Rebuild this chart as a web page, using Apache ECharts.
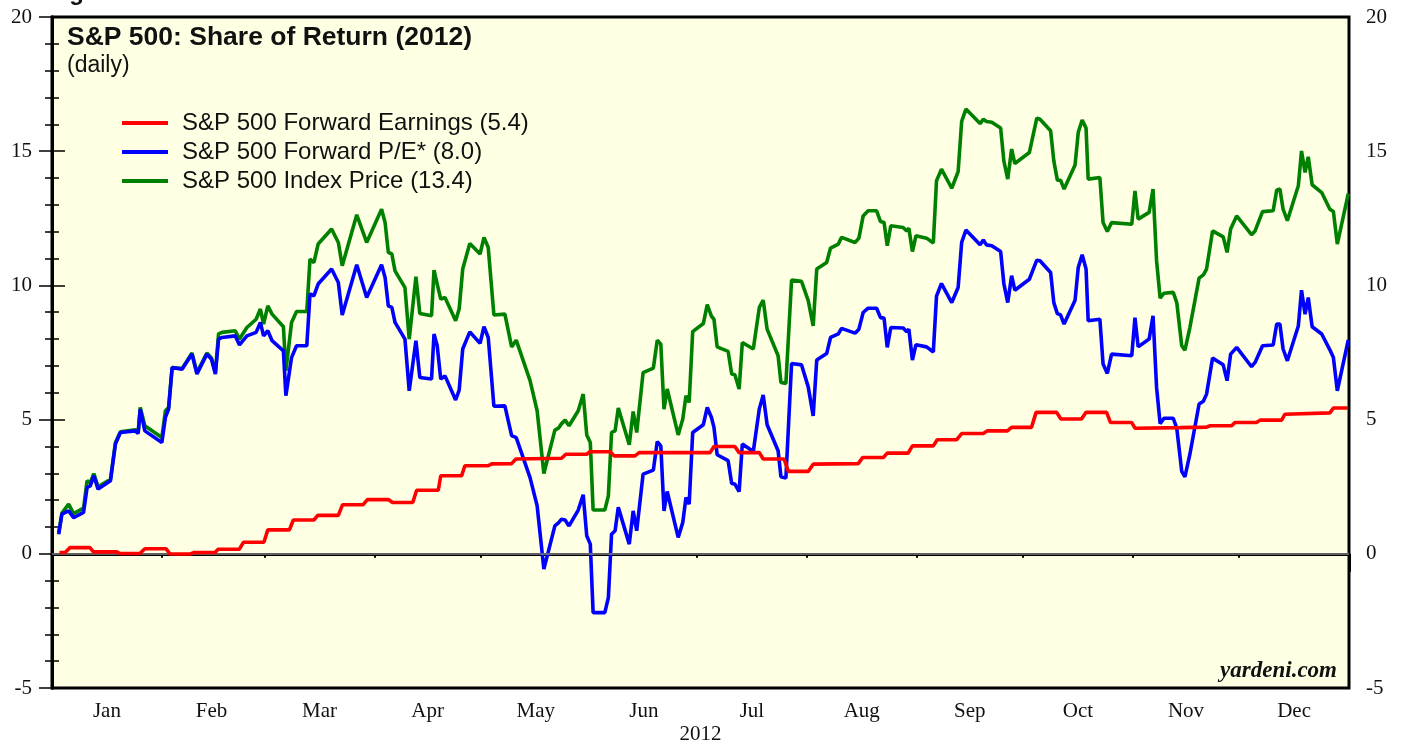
<!DOCTYPE html>
<html>
<head>
<meta charset="utf-8">
<title>S&amp;P 500: Share of Return (2012)</title>
<script src="https://cdn.jsdelivr.net/npm/echarts@6/dist/echarts.min.js"></script>
<style>
  html, body { margin: 0; padding: 0; background: #fff; }
  #chart { width: 1407px; height: 742px; }
</style>
</head>
<body>
<div id="chart"></div>
<script>
// x values are day of year (0 = Jan 1 2012) at each vertex
const priceDays = [
  1.9, 2.8, 4.7, 6.1, 8.9, 9.9, 10.8, 11.8, 13.0, 16.5,
  17.9, 19.3, 23.5, 24.3, 24.9, 26.2, 31.0, 32.0, 32.9, 33.9,
  36.7, 39.5, 40.9, 43.7, 45.0, 46.1, 47.0, 48.0, 51.7, 52.9,
  55.0, 57.6, 58.8, 59.7, 60.9, 62.1, 65.3, 66.0, 67.6, 69.0,
  71.9, 72.8, 73.9, 75.1, 78.9, 80.8, 81.9, 86.0, 88.8, 93.0,
  94.0, 94.9, 95.9, 96.8, 99.6, 100.8, 102.7, 103.8, 107.1, 107.8,
  108.7, 109.7, 110.9, 113.9, 114.9, 115.9, 117.9, 120.8, 121.9, 123.1,
  124.7, 127.8, 129.7, 131.0, 134.9, 136.9, 138.8, 141.9, 142.9, 143.8,
  144.8, 145.9, 148.5, 149.9, 150.9, 151.9, 152.7, 156.0, 157.0, 157.9,
  158.9, 159.8, 162.9, 164.0, 165.0, 166.8, 169.7, 170.8, 171.8, 172.7,
  173.6, 176.7, 178.0, 178.9, 179.8, 180.8, 183.8, 184.9, 186.1, 186.8,
  187.7, 190.8, 191.8, 192.7, 193.9, 194.8, 197.9, 199.6, 200.7, 201.8,
  204.9, 205.7, 207.1, 208.7, 211.5, 213.4, 214.8, 215.8, 218.6, 219.7,
  221.9, 222.8, 226.6, 227.7, 228.9, 230.3, 232.7, 233.8, 234.8, 235.7,
  236.7, 240.2, 241.2, 241.8, 242.8, 243.8, 246.8, 248.7, 249.6, 251.0,
  253.9, 255.7, 256.7, 257.9, 261.9, 262.8, 263.7, 265.2, 267.7, 268.6,
  269.7, 270.8, 271.7, 275.8, 277.9, 278.8, 281.8, 282.7, 283.7, 284.6,
  285.6, 288.7, 289.6, 290.7, 291.8, 292.4, 295.7, 296.6, 297.8, 299.0,
  304.7, 305.6, 306.5, 309.6, 310.7, 311.7, 312.7, 313.8, 316.4, 317.4,
  318.8, 319.7, 321.1, 323.7, 324.9, 325.8, 327.5, 330.5, 331.6, 332.6,
  334.3, 338.5, 339.5, 341.6, 344.6, 345.6, 346.5, 347.4, 348.6, 351.7,
  352.6, 353.6, 354.5, 355.6, 358.3, 360.6, 361.6, 362.7, 365.8
];

// S&P 500 Index Price share of return (%)
const priceVals = [
  0.80, 1.52, 1.85, 1.50, 1.70, 2.72, 2.65, 2.99, 2.50, 2.78,
  4.15, 4.55, 4.62, 4.50, 5.45, 4.77, 4.33, 5.33, 5.45, 6.94,
  6.90, 7.48, 6.75, 7.48, 7.30, 6.75, 8.19, 8.25, 8.31, 8.00,
  8.43, 8.74, 9.12, 8.56, 9.24, 8.93, 8.46, 6.82, 8.62, 9.03,
  9.03, 10.98, 10.85, 11.54, 12.10, 11.60, 10.73, 12.63, 11.60, 12.84,
  12.34, 11.23, 11.17, 10.54, 9.92, 8.00, 10.32, 8.95, 8.87, 10.57,
  10.05, 9.49, 9.55, 8.68, 9.12, 10.61, 11.56, 11.17, 11.79, 11.41,
  8.90, 8.93, 7.71, 7.96, 6.45, 5.33, 2.99, 4.61, 4.68, 4.85,
  4.98, 4.77, 5.33, 5.95, 4.43, 4.15, 1.63, 1.63, 2.16, 4.52,
  4.58, 5.43, 4.06, 5.30, 4.52, 6.75, 6.92, 7.96, 7.81, 5.39,
  6.14, 4.43, 5.02, 5.89, 5.64, 8.28, 8.58, 9.28, 8.85, 8.74,
  7.71, 7.54, 6.70, 6.67, 6.14, 7.87, 7.63, 9.18, 9.45, 8.37,
  7.38, 6.38, 6.35, 10.20, 10.15, 9.43, 8.49, 10.61, 10.85, 11.39,
  11.54, 11.79, 11.60, 11.76, 12.59, 12.78, 12.78, 12.38, 12.34, 11.48,
  12.22, 12.16, 12.03, 12.13, 11.26, 11.85, 11.76, 11.58, 13.90, 14.33,
  13.62, 14.24, 16.11, 16.57, 16.03, 16.19, 16.11, 16.08, 15.86, 14.64,
  13.96, 15.08, 14.54, 14.95, 16.23, 16.19, 15.76, 14.64, 13.92, 13.92,
  13.59, 14.49, 15.70, 16.16, 15.86, 13.96, 14.02, 12.34, 12.01, 12.34,
  12.28, 13.52, 12.47, 12.72, 13.59, 10.92, 9.53, 9.71, 9.74, 9.36,
  7.75, 7.59, 8.43, 10.27, 10.39, 10.61, 12.03, 11.81, 11.23, 12.10,
  12.59, 11.89, 12.03, 12.75, 12.78, 13.55, 13.59, 12.84, 12.41, 13.71,
  15.01, 14.21, 14.79, 13.75, 13.46, 12.84, 12.75, 11.54, 13.42
];

// S&P 500 Forward P/E share of return (%), same days as price
const peVals = [
  0.73, 1.48, 1.60, 1.35, 1.54, 2.47, 2.53, 2.91, 2.41, 2.72,
  4.09, 4.52, 4.58, 4.48, 5.39, 4.58, 4.15, 5.08, 5.39, 6.94,
  6.88, 7.44, 6.70, 7.44, 7.25, 6.70, 8.00, 8.06, 8.12, 7.78,
  8.12, 8.25, 8.62, 8.12, 8.31, 7.94, 7.56, 5.89, 7.31, 7.75,
  7.75, 9.68, 9.61, 10.05, 10.61, 10.11, 8.90, 10.77, 9.55, 10.77,
  10.29, 9.24, 9.18, 8.62, 8.00, 6.07, 7.94, 6.57, 6.51, 8.19,
  7.75, 6.51, 6.63, 5.73, 6.10, 7.63, 8.27, 7.84, 8.46, 8.06,
  5.50, 5.51, 4.40, 4.33, 2.84, 1.79, -0.57, 1.04, 1.15, 1.29,
  1.26, 1.04, 1.63, 2.20, 0.67, 0.36, -2.19, -2.19, -1.63, 0.73,
  0.86, 1.73, 0.36, 1.60, 0.86, 2.97, 3.12, 4.18, 4.02, 1.60,
  2.32, 0.61, 1.17, 2.10, 1.85, 4.52, 4.81, 5.45, 5.08, 4.71,
  3.69, 3.47, 2.62, 2.60, 2.32, 4.09, 3.81, 5.40, 5.92, 4.81,
  3.84, 2.87, 2.82, 7.09, 7.04, 6.22, 5.14, 7.22, 7.46, 8.06,
  8.19, 8.40, 8.22, 8.37, 8.99, 9.15, 9.15, 8.80, 8.78, 7.69,
  8.43, 8.41, 8.27, 8.37, 7.22, 7.79, 7.71, 7.52, 9.60, 10.07,
  9.36, 9.92, 11.60, 12.06, 11.51, 11.69, 11.51, 11.48, 11.26, 10.07,
  9.36, 10.36, 9.82, 10.23, 10.94, 10.92, 10.48, 9.36, 8.95, 8.90,
  8.56, 9.45, 10.67, 11.14, 10.61, 8.68, 8.74, 7.07, 6.72, 7.44,
  7.38, 8.80, 7.71, 8.00, 8.87, 6.20, 4.85, 5.05, 5.05, 4.68,
  3.07, 2.87, 3.71, 5.58, 5.68, 5.95, 7.29, 7.04, 6.45, 7.44,
  7.69, 6.97, 7.13, 7.75, 7.78, 8.56, 8.56, 7.63, 7.19, 8.49,
  9.82, 8.93, 9.55, 8.46, 8.19, 7.60, 7.31, 6.07, 7.97
];

// S&P 500 Forward Earnings share of return (%), a step line
const earnDays = [
  2.1, 3.7, 5.1, 10.7, 11.7, 18.3, 19.2, 24.8, 26.2, 32.2,
  33.3, 38.9, 40.1, 46.0, 46.9, 52.9, 54.0, 59.8, 60.9, 67.0,
  68.1, 73.9, 75.0, 80.8, 82.0, 87.8, 89.0, 94.9, 96.1, 101.8,
  102.9, 109.0, 109.7, 115.6, 116.5, 123.1, 124.1, 129.7, 130.9, 143.8,
  145.0, 150.9, 151.8, 157.5, 158.6, 164.5, 165.7, 185.7, 186.8, 192.7,
  193.9, 199.6, 200.7, 206.6, 207.8, 213.4, 214.8, 227.5, 228.8, 234.6,
  235.7, 241.6, 242.8, 248.7, 249.8, 255.3, 256.7, 262.8, 263.9, 269.6,
  270.8, 276.4, 277.7, 283.5, 284.7, 290.5, 291.8, 297.6, 298.7, 304.7,
  305.6, 318.3, 325.8, 326.8, 332.9, 333.8, 339.9, 340.9, 347.0, 347.9,
  360.6, 361.6, 365.7
];
const earnVals = [
  0.05, 0.05, 0.23, 0.23, 0.07, 0.07, 0.01, 0.01, 0.19, 0.19,
  -0.01, -0.01, 0.05, 0.05, 0.17, 0.17, 0.43, 0.43, 0.89, 0.89,
  1.26, 1.26, 1.43, 1.43, 1.83, 1.83, 2.02, 2.02, 1.91, 1.91,
  2.37, 2.37, 2.91, 2.91, 3.28, 3.28, 3.35, 3.36, 3.53, 3.56,
  3.71, 3.71, 3.80, 3.80, 3.65, 3.65, 3.77, 3.77, 4.00, 4.00,
  3.77, 3.77, 3.53, 3.53, 3.07, 3.07, 3.34, 3.36, 3.59, 3.59,
  3.75, 3.75, 4.02, 4.02, 4.25, 4.25, 4.48, 4.48, 4.58, 4.58,
  4.71, 4.71, 5.27, 5.27, 5.02, 5.02, 5.27, 5.27, 4.89, 4.89,
  4.68, 4.70, 4.72, 4.77, 4.77, 4.89, 4.89, 4.98, 4.98, 5.20,
  5.25, 5.43, 5.43
];

const seriesNames = [
  'S&P 500 Forward Earnings (5.4)',
  'S&P 500 Forward P/E* (8.0)',
  'S&P 500 Index Price (13.4)'
];

const monthStarts = [0, 31, 60, 91, 121, 152, 182, 213, 244, 274, 305, 335, 366];
const monthMids = [15.5, 45, 75.5, 106, 136.5, 167, 197.5, 228.5, 259, 289.5, 320, 350.5];
const monthNames = ['Jan', 'Feb', 'Mar', 'Apr', 'May', 'Jun', 'Jul', 'Aug', 'Sep', 'Oct', 'Nov', 'Dec'];

const SERIF = '"Liberation Serif", "Times New Roman", serif';
const SANS = '"Liberation Sans", Arial, sans-serif';

const zip = (xs, ys) => xs.map((x, i) => [x, ys[i]]);

const chart = echarts.init(document.getElementById('chart'));

const yAxisBase = (side, margin) => ({
  type: 'value',
  position: side,
  min: -5,
  max: 20,
  interval: 5,
  axisLine: { show: true, lineStyle: { color: '#000', width: 3 } },
  axisTick: { show: true, length: 13, lineStyle: { color: '#000', width: 1.5 } },
  minorTick: { show: true, splitNumber: 5, length: 7, lineStyle: { color: '#000', width: 1.5 } },
  minorSplitLine: { show: false },
  splitLine: { show: false },
  axisLabel: { fontFamily: SERIF, fontSize: 21, color: '#111', margin: margin }
});

const lineSeries = (name, days, vals, color, z) => ({
  name: name,
  type: 'line',
  data: zip(days, vals),
  showSymbol: false,
  symbol: 'none',
  z: z,
  lineStyle: { color: color, width: 3.6 },
  itemStyle: { color: color }
});

const priceSeries = lineSeries(seriesNames[2], priceDays, priceVals, '#008000', 3);
priceSeries.markLine = {
  silent: true,
  symbol: 'none',
  label: { show: false },
  lineStyle: { color: '#808080', width: 1.5, type: 'solid' },
  data: [{ yAxis: 0 }]
};

chart.setOption({
  animation: false,
  backgroundColor: '#fff',
  title: [
    {
      text: 'Figure 3.',
      left: 48,
      top: -19,
      padding: 0,
      textStyle: { fontFamily: SANS, fontSize: 24, fontWeight: 'bold', color: '#111' }
    },
    {
      text: 'S&P 500: Share of Return (2012)',
      subtext: '(daily)',
      left: 67,
      top: 24,
      padding: 0,
      itemGap: 3,
      textStyle: { fontFamily: SANS, fontSize: 26.5, fontWeight: 'bold', color: '#111' },
      subtextStyle: { fontFamily: SANS, fontSize: 23, color: '#111' }
    },
    {
      text: 'yardeni.com',
      right: 70,
      top: 660,
      padding: 0,
      textStyle: { fontFamily: SERIF, fontSize: 23, fontWeight: 'bold', fontStyle: 'italic', color: '#111' }
    }
  ],
  legend: {
    data: seriesNames,
    orient: 'vertical',
    left: 122,
    top: 111,
    padding: 0,
    icon: 'rect',
    itemWidth: 46,
    itemHeight: 4,
    itemGap: 5,
    textStyle: { fontFamily: SANS, fontSize: 24, lineHeight: 24, color: '#111', padding: [0, 0, 0, 9] }
  },
  grid: {
    left: 52,
    right: 58,
    top: 17,
    bottom: 54,
    show: true,
    backgroundColor: '#FFFFE3',
    borderColor: '#000',
    borderWidth: 3,
    outerBoundsMode: 'none'
  },
  xAxis: [
    {
      type: 'value',
      min: 0,
      max: 366,
      position: 'bottom',
      name: '2012',
      nameLocation: 'middle',
      nameGap: 36,
      nameMoveOverlap: false,
      nameTextStyle: { fontFamily: SERIF, fontSize: 21, color: '#111' },
      axisLine: { show: true, lineStyle: { color: '#000', width: 3 } },
      axisTick: {
        show: true,
        customValues: monthStarts.slice(1, -1),
        length: 4,
        lineStyle: { color: '#000', width: 2 }
      },
      axisLabel: {
        customValues: monthMids,
        formatter: (v) => monthNames[monthMids.indexOf(v)],
        fontFamily: SERIF,
        fontSize: 21,
        color: '#111',
        margin: 13
      },
      splitLine: { show: false }
    },
    {
      type: 'value',
      min: 0,
      max: 366,
      position: 'bottom',
      axisLine: { show: false },
      axisTick: {
        show: true,
        customValues: [monthStarts[0], monthStarts[monthStarts.length - 1]],
        length: 18,
        lineStyle: { color: '#000', width: 3 }
      },
      axisLabel: { show: false },
      splitLine: { show: false }
    }
  ],
  yAxis: [yAxisBase('left', 20), yAxisBase('right', 17)],
  series: [
    lineSeries(seriesNames[0], earnDays, earnVals, '#FF0000', 5),
    lineSeries(seriesNames[1], priceDays, peVals, '#0000FF', 4),
    priceSeries
  ]
});

window.addEventListener('resize', () => {
  chart.resize();
});
</script>
</body>
</html>
